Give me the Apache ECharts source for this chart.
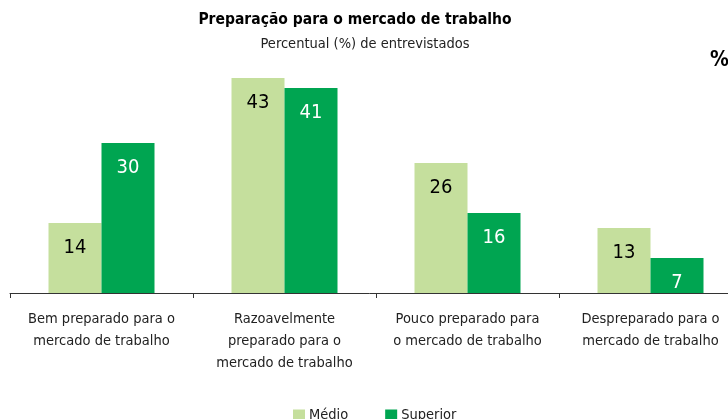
<!DOCTYPE html>
<html><head><meta charset="utf-8">
<script src="https://cdn.jsdelivr.net/npm/echarts@6/dist/echarts.min.js"></script>
<style>html,body{margin:0;padding:0;background:#fff}#c{width:728px;height:419px}</style>
</head><body><div id="c"></div>
<script>
const categories = ["Bem preparado para o\nmercado de trabalho","Razoavelmente\npreparado para o\nmercado de trabalho","Pouco preparado para\no mercado de trabalho","Despreparado para o\nmercado de trabalho"];
const medio = [14, 43, 26, 13];
const superior = [30, 41, 16, 7];
const seriesNames = ["Médio", "Superior"];
const FONT = '"Liberation Sans Narrow","DejaVu Sans Condensed","Roboto",sans-serif';
const chart = echarts.init(document.getElementById('c'));
chart.setOption({
  animation:false,
  textStyle:{fontFamily:FONT},
  graphic:[
    {type:'text',style:{text:'Preparação para o mercado de trabalho',x:355,y:20,textAlign:'center',textVerticalAlign:'middle',font:'bold 15.5px '+FONT,fill:'#000'}},
    {type:'text',style:{text:'Percentual (%) de entrevistados',x:365,y:44,textAlign:'center',textVerticalAlign:'middle',font:'14.5px '+FONT,fill:'#222'}},
    {type:'text',style:{text:'%',x:710,y:61,textAlign:'left',textVerticalAlign:'middle',font:'bold 21px '+FONT,fill:'#000'}}
  ],
  legend:{left:288,top:403,itemWidth:12,itemHeight:12,itemGap:37,icon:'rect',
    textStyle:{fontFamily:FONT,fontSize:14.5,color:'#222',padding:[0,0,0,-1]},data:seriesNames},
  grid:{left:10,top:43,width:732,height:250,containLabel:false,outerBoundsMode:'none'},
  xAxis:{type:'category',data:categories,
    axisLine:{lineStyle:{color:'#333',width:1}},
    axisTick:{show:true,length:5,lineStyle:{color:'#333'}},
    axisLabel:{interval:0,margin:15,fontSize:14.5,lineHeight:22,color:'#222',fontFamily:FONT}},
  yAxis:{type:'value',min:0,max:50,show:false,splitLine:{show:false}},
  series:[
    {name:seriesNames[0],type:'bar',data:medio,barWidth:53,barGap:'0%',itemStyle:{color:'#c5df9d'},
     label:{show:true,position:'insideTop',distance:15,fontSize:20,color:'#000',fontFamily:FONT}},
    {name:seriesNames[1],type:'bar',data:superior,barWidth:53,barGap:'0%',itemStyle:{color:'#00a551'},
     label:{show:true,position:'insideTop',distance:15,fontSize:20,color:'#fff',fontFamily:FONT}}
  ]
});
</script></body></html>
